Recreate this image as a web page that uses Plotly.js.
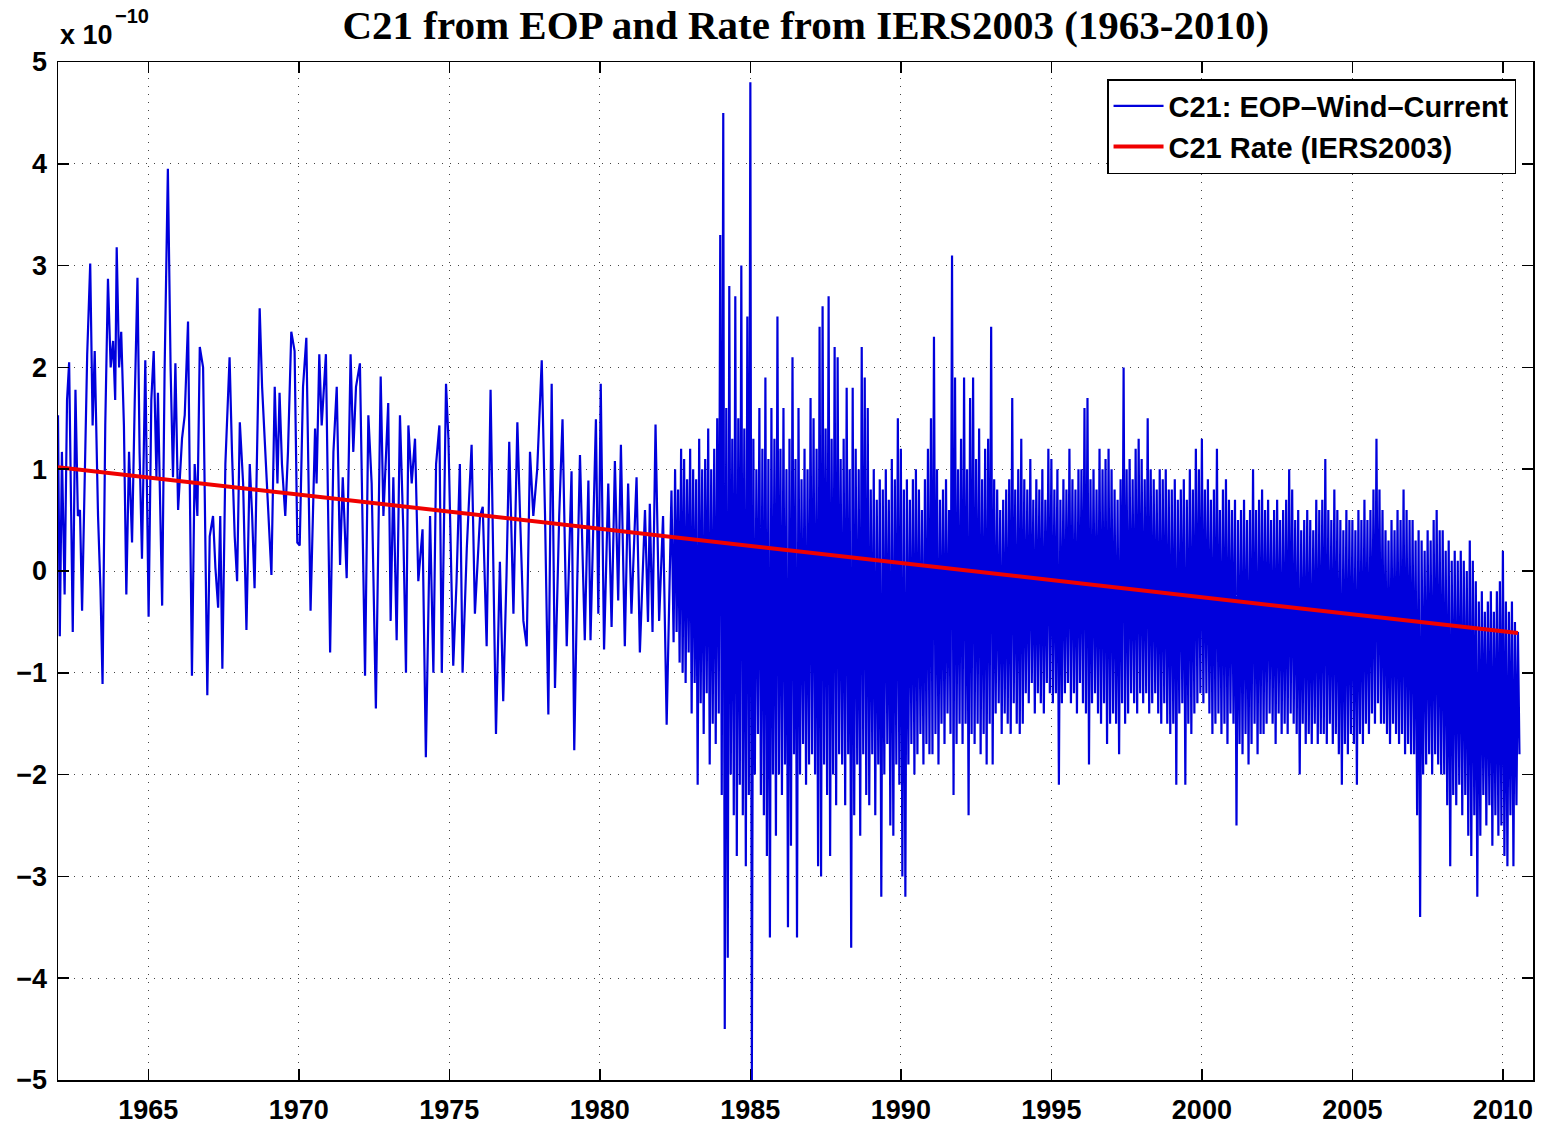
<!DOCTYPE html>
<html>
<head>
<meta charset="utf-8">
<script src="https://cdn.plot.ly/plotly-3.0.1.min.js"></script>
<style>html,body{margin:0;padding:0;background:#fff;}#chart{width:1554px;height:1127px;}</style>
</head>
<body>
<div id="chart"></div>
<script>
// ---- Data (values in units of 1e-10) ----
// Early part: turning points
const yearsA = [
1962.00,1962.06,1962.13,1962.22,1962.30,1962.37,1962.49,1962.58,1962.66,1962.73,1962.80,1962.89,1962.97,
1963.07,1963.15,1963.22,1963.33,1963.41,1963.48,1963.57,1963.66,1963.75,1963.83,1963.90,1963.95,
1964.03,1964.10,1964.19,1964.27,1964.36,1964.46,1964.55,1964.64,1964.71,1964.79,1964.90,
1965.01,1965.10,1965.18,1965.27,1965.32,1965.46,1965.54,1965.65,1965.74,1965.82,1965.90,1965.99,
1966.12,1966.21,1966.32,1966.39,1966.45,1966.54,1966.63,1966.71,1966.82,1966.89,1966.96,
1967.04,1967.15,1967.23,1967.32,1967.39,1967.46,1967.56,1967.70,1967.78,1967.87,1967.95,
1968.04,1968.15,1968.26,1968.37,1968.45,1968.53,1968.70,1968.78,1968.87,1968.98,
1969.09,1969.20,1969.29,1969.36,1969.44,1969.55,1969.64,1969.75,1969.86,1969.95,
1970.03,1970.14,1970.25,1970.39,1970.54,1970.59,1970.68,1970.76,1970.90,
1971.04,1971.15,1971.26,1971.37,1971.46,1971.59,1971.72,1971.81,1971.90,
1972.03,1972.20,1972.31,1972.42,1972.56,1972.72,1972.81,1972.97,
1973.05,1973.14,1973.25,1973.36,1973.47,1973.56,1973.64,1973.75,1973.86,1973.97,
1974.11,1974.22,1974.36,1974.47,1974.56,1974.67,1974.75,1974.89,1974.97,
1975.13,1975.24,1975.35,1975.44,1975.58,1975.74,1975.85,
1976.02,1976.11,1976.24,1976.37,1976.48,1976.55,1976.68,1976.79,1976.90,1976.99,
1977.13,1977.26,1977.35,1977.46,1977.57,1977.68,1977.79,1977.92,
1978.07,1978.18,1978.29,1978.40,1978.51,1978.65,1978.76,1978.90,
1979.06,1979.15,1979.25,1979.34,1979.50,1979.62,1979.69,1979.87,1979.95,
1980.03,1980.14,1980.28,1980.39,1980.50,1980.61,1980.70,1980.83,1980.94,
1981.05,1981.22,1981.33,1981.50,1981.60,1981.66,1981.75,1981.85,1981.97,
1982.10,1982.22,1982.38,1982.45
];
const c21A = [
1.53,-0.64,1.17,-0.23,1.68,2.05,-0.60,1.78,0.54,0.60,-0.39,0.86,2.13,
3.02,1.43,2.16,0.54,-0.17,-1.11,1.43,2.87,2.00,2.26,1.68,3.18,
2.00,2.35,1.43,-0.23,1.17,0.28,1.68,2.88,1.17,0.12,2.07,
-0.45,1.68,2.16,0.92,1.75,-0.34,1.94,3.95,2.00,0.92,2.04,0.60,
1.30,1.53,2.45,0.54,-1.03,1.05,0.54,2.20,2.00,0.41,-1.22,
0.34,0.54,0.03,-0.36,0.54,-0.96,1.05,2.10,1.17,0.34,-0.10,
1.46,0.86,-0.58,1.05,0.54,-0.17,2.58,1.81,1.30,0.66,
-0.04,1.81,0.86,1.75,1.05,0.54,1.17,2.35,2.16,0.28,
0.25,1.81,2.29,-0.39,1.40,0.86,2.13,1.43,2.13,
-0.80,1.17,1.81,0.06,0.92,-0.07,2.13,1.17,1.81,
2.04,-1.03,1.53,0.86,-1.35,1.91,0.54,1.65,
-0.49,0.92,-0.68,1.53,0.41,-1.00,1.43,0.86,1.30,-0.10,
0.41,-1.83,0.54,-1.00,1.05,1.43,-1.00,1.84,1.30,
-0.93,-0.10,1.05,-1.00,0.22,1.24,-0.42,
0.54,0.63,-0.74,1.78,-0.23,-1.60,0.09,-1.28,-0.04,1.27,
-0.42,1.46,0.54,-0.49,-0.74,1.17,0.54,1.00,
2.07,0.54,-1.41,1.84,-1.15,0.54,1.49,-0.74,
0.98,-1.76,-0.10,1.14,-0.68,0.89,-0.68,1.49,-0.42,
1.84,-0.77,0.86,-0.55,1.08,-0.29,1.24,-0.74,0.86,
-0.42,0.92,-0.80,0.60,-0.50,0.66,-0.60,1.44,-0.49,
0.54,-1.51,0.79,-0.70
];

// Dense part: every 0.1 year from 1982.5, the high and the following low
const startB = 1982.5;
const stepB = 0.1;
const hiB = [
1.0,0.8,1.2,1.1,0.9,
1.2,1.0,0.9,1.3,1.0,1.1,1.4,1.0,1.2,1.5,
3.3,4.5,1.6,2.8,1.3,2.7,1.5,3.0,1.4,2.5,
4.8,1.3,1.0,1.6,1.2,1.9,1.1,1.6,1.3,2.5,
1.2,1.6,1.0,1.3,2.1,1.1,1.6,0.9,1.2,1.0,
1.7,1.5,1.2,2.4,2.6,1.4,2.7,1.3,2.2,2.1,
1.1,1.3,1.8,1.0,1.8,1.2,1.0,2.2,1.9,1.6,
0.8,1.0,0.7,0.9,0.8,1.0,0.7,1.1,0.9,1.5,
1.2,0.8,0.9,0.7,0.9,1.0,0.8,0.6,0.9,1.2,
1.5,2.3,1.0,0.7,0.8,0.9,0.6,3.1,1.9,1.0,
1.3,1.9,1.0,1.7,1.9,1.1,1.4,0.9,1.2,1.3,
2.4,0.9,0.8,0.6,0.7,0.8,0.9,1.7,0.8,1.0,
1.3,0.9,0.8,1.1,0.7,0.9,0.8,1.0,0.7,1.2,
1.1,0.8,1.0,0.7,0.9,0.8,1.2,0.9,0.8,1.0,
1.0,1.6,1.7,0.9,1.0,0.8,1.2,1.0,1.1,1.2,
1.0,0.8,0.7,0.9,2.0,1.0,1.1,0.9,1.2,1.3,
1.1,0.9,1.5,1.0,0.9,0.8,1.0,0.9,1.0,0.8,
0.8,0.9,0.7,0.8,0.9,0.7,1.0,0.8,1.2,1.0,
1.3,0.8,0.9,0.7,0.8,1.2,0.6,0.8,0.9,0.7,
0.6,0.7,0.5,0.6,0.7,0.5,0.6,1.0,0.6,0.7,
0.8,0.6,0.7,0.5,0.6,0.7,0.5,0.6,0.7,1.0,
0.8,0.5,0.6,0.4,0.5,0.6,0.5,0.4,0.7,0.6,
0.7,1.1,0.6,0.5,0.8,0.6,0.5,0.4,0.6,0.5,
0.5,0.4,0.6,0.5,0.7,0.5,0.6,0.8,1.3,0.8,
0.6,0.4,0.3,0.5,0.4,0.6,0.5,0.8,0.6,0.5,
0.5,0.3,0.4,0.3,0.2,0.4,0.3,0.5,0.6,0.4,
0.4,0.2,0.3,0.1,0.2,0.1,0.2,0.1,0.0,0.3,
0.1,-0.1,-0.3,-0.2,-0.4,-0.3,-0.2,-0.4,-0.2,-0.1,
0.2,-0.3,-0.4,-0.3,-0.5,-0.6
];
const loB = [
-0.6,-0.9,-1.0,-1.1,-0.8,
-1.4,-1.1,-2.1,-1.3,-1.6,-1.2,-1.9,-1.5,-1.7,-1.4,
-2.2,-4.5,-3.8,-2.0,-2.4,-2.8,-2.1,-2.4,-2.9,-2.2,
-5.0,-2.0,-1.6,-2.2,-2.4,-2.8,-3.6,-2.0,-2.6,-2.0,
-2.2,-1.9,-3.5,-2.7,-1.8,-3.6,-2.0,-1.7,-2.1,-1.9,
-1.8,-2.0,-2.9,-3.0,-1.9,-2.2,-2.8,-2.0,-2.3,-1.8,
-1.9,-2.3,-1.8,-3.7,-2.4,-1.9,-2.6,-1.8,-2.2,-2.3,
-1.8,-2.4,-1.9,-3.2,-2.0,-1.7,-2.5,-2.6,-1.9,-2.1,
-3.0,-3.2,-1.9,-1.7,-2.0,-1.8,-1.6,-1.9,-1.7,-1.8,
-1.8,-1.6,-1.9,-1.5,-1.7,-1.4,-1.6,-2.2,-1.7,-1.5,
-1.7,-1.5,-2.4,-1.6,-1.7,-1.5,-1.8,-1.6,-1.9,-1.5,
-1.9,-1.4,-1.3,-1.6,-1.4,-1.5,-1.6,-1.3,-1.5,-1.6,
-1.5,-1.2,-1.3,-1.1,-1.4,-1.2,-1.3,-1.4,-1.1,-1.2,
-1.3,-1.2,-2.1,-1.3,-1.2,-1.1,-1.3,-1.2,-1.4,-1.1,
-1.3,-1.4,-1.9,-1.3,-1.2,-1.4,-1.5,-1.3,-1.7,-1.5,
-1.4,-1.5,-1.8,-1.3,-1.5,-1.4,-1.2,-1.3,-1.4,-1.2,
-1.3,-1.2,-1.4,-1.3,-1.2,-1.4,-1.5,-1.3,-1.5,-1.6,
-1.5,-2.1,-1.4,-1.3,-2.1,-1.5,-1.6,-1.4,-1.3,-1.2,
-1.3,-1.2,-1.4,-1.6,-1.5,-1.4,-1.6,-1.5,-1.7,-1.4,
-1.5,-2.5,-1.7,-1.8,-1.6,-1.9,-1.7,-1.5,-1.8,-1.6,
-1.6,-1.5,-1.4,-1.5,-1.7,-1.4,-1.6,-1.5,-1.6,-1.4,
-1.5,-1.6,-2.0,-1.5,-1.7,-1.6,-1.7,-1.5,-1.7,-1.6,
-1.6,-1.7,-1.5,-1.7,-1.6,-1.8,-2.1,-1.7,-1.8,-1.6,
-1.7,-2.1,-1.6,-1.7,-1.5,-1.6,-1.4,-1.5,-1.3,-1.5,
-1.5,-1.6,-1.7,-1.5,-1.6,-1.7,-1.6,-1.8,-1.7,-1.8,
-1.8,-2.4,-3.4,-2.0,-1.9,-1.8,-2.0,-1.8,-1.9,-2.0,
-2.0,-2.3,-2.9,-2.2,-2.3,-2.1,-2.4,-2.2,-2.6,-2.8,
-2.4,-3.2,-2.6,-2.2,-2.5,-2.3,-2.7,-2.4,-2.6,-2.5,
-2.8,-2.9,-2.4,-2.9,-2.3,-1.8
];

// IERS2003 C21 rate line
const rateYears = [1962.0, 2010.5];
const rateVals = [1.02, -0.61];

const xTickVals = [1965, 1970, 1975, 1980, 1985, 1990, 1995, 2000, 2005, 2010];
const yTickVals = [-5, -4, -3, -2, -1, 0, 1, 2, 3, 4, 5];

// ---- Build the blue polyline ----
const xs = yearsA.slice();
const ys = c21A.slice();
hiB.forEach(function (h, i) {
  const t = startB + i * stepB;
  xs.push(t); ys.push(h);
  xs.push(t + stepB / 2); ys.push(loB[i]);
});

const fontSans = 'Liberation Sans, Arial, Helvetica, sans-serif';

const traces = [
  {
    x: xs, y: ys, type: 'scatter', mode: 'lines',
    name: 'C21: EOP\u2013Wind\u2013Current',
    line: {color: 'rgb(0,0,220)', width: 2.2}
  },
  {
    x: rateYears, y: rateVals, type: 'scatter', mode: 'lines',
    name: 'C21 Rate (IERS2003)',
    line: {color: 'rgb(240,0,0)', width: 4}
  }
];

const axisCommon = {
  showline: true, linecolor: 'black', linewidth: 1.5, mirror: 'ticks',
  ticks: 'inside', ticklen: 11, tickwidth: 1.5, tickcolor: 'black',
  showgrid: true, gridcolor: '#444', gridwidth: 1, griddash: '1px,7px',
  zeroline: false,
  tickfont: {family: fontSans, size: 27, color: 'black', weight: 'bold'}
};

const layout = {
  width: 1554, height: 1127,
  margin: {l: 58, r: 21, t: 62, b: 47},
  paper_bgcolor: 'white', plot_bgcolor: 'white',
  title: {
    text: 'C21 from EOP and Rate from IERS2003 (1963-2010)',
    font: {family: 'Liberation Serif, Times New Roman, serif', size: 41, color: 'black', weight: 'bold'},
    xref: 'paper', x: 0.507, xanchor: 'center',
    yref: 'container', y: 1 - 25 / 1127, yanchor: 'middle'
  },
  xaxis: Object.assign({}, axisCommon, {
    range: [1962, 2011], tickvals: xTickVals, ticktext: xTickVals.map(String),
    ticklabelstandoff: 5
  }),
  yaxis: Object.assign({}, axisCommon, {
    range: [-5, 5], tickvals: yTickVals, ticklabelstandoff: 4
  }),
  showlegend: true,
  legend: {
    x: 0.9885, xanchor: 'right', y: 0.9833, yanchor: 'top',
    bgcolor: 'white', bordercolor: 'black', borderwidth: 1.5,
    font: {family: fontSans, size: 29, color: 'black', weight: 'bold'},
    itemwidth: 50, tracegroupgap: 0
  },
  annotations: [
    {text: 'x 10', xref: 'paper', yref: 'paper', x: 0, y: 1 + 27 / 1018,
     xanchor: 'left', yanchor: 'middle', showarrow: false,
     font: {family: fontSans, size: 27, color: 'black', weight: 'bold'}},
    {text: '\u221210', xref: 'paper', yref: 'paper', x: 55 / 1475, y: 1 + 46 / 1018,
     xanchor: 'left', yanchor: 'middle', showarrow: false,
     font: {family: fontSans, size: 20, color: 'black', weight: 'bold'}}
  ]
};

Plotly.newPlot('chart', traces, layout, {staticPlot: true, displayModeBar: false});
</script>
</body>
</html>
